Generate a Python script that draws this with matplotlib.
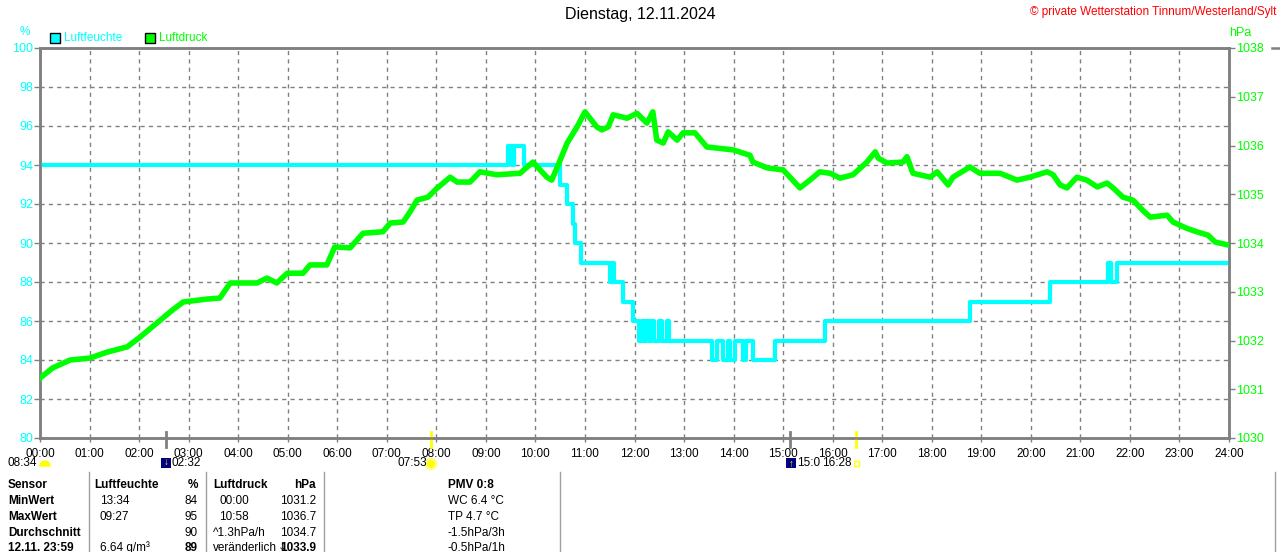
import matplotlib
matplotlib.use("Agg")
import matplotlib.pyplot as plt
import matplotlib.transforms as mtransforms
from matplotlib.patches import Rectangle, Circle, Wedge

plt.rcParams['font.family'] = ['Liberation Sans', 'DejaVu Sans']

# Luftfeuchte (%) - Stufenverlauf: Zeit in Stunden, Wert ab dieser Zeit
hum_t = [0.00, 9.45, 9.52, 9.57, 9.77, 10.50, 10.64, 10.76, 10.80, 10.93,
         11.51, 11.55, 11.58, 11.76, 11.97, 12.10, 12.16, 12.20, 12.24, 12.30,
         12.33, 12.40, 12.50, 12.55, 12.65, 12.70, 13.56, 13.66, 13.78, 13.88,
         13.92, 14.02, 14.18, 14.26, 14.39, 14.84, 15.85, 18.77, 20.39, 21.56,
         21.62, 21.74, 24.00]
hum_v = [94, 95, 94, 95, 94, 93, 92, 91, 90, 89,
         88, 89, 88, 87, 86, 85, 86, 85, 86, 85,
         86, 85, 86, 85, 86, 85, 84, 85, 84, 85,
         84, 85, 84, 85, 84, 85, 86, 87, 88, 89,
         88, 89, 89]

# Luftdruck (hPa)
p_t = [0.00, 0.26, 0.61, 1.01, 1.35, 1.76, 2.02, 2.36, 2.68, 2.89,
       3.37, 3.63, 3.84, 4.38, 4.58, 4.78, 4.99, 5.31, 5.45, 5.79,
       5.95, 6.26, 6.52, 6.92, 7.07, 7.33, 7.47, 7.61, 7.83, 8.01,
       8.28, 8.42, 8.68, 8.88, 9.22, 9.69, 9.95, 10.23, 10.33, 10.50,
       10.64, 10.84, 11.00, 11.24, 11.34, 11.47, 11.57, 11.85, 12.05, 12.25,
       12.37, 12.45, 12.58, 12.68, 12.86, 12.98, 13.22, 13.46, 13.99, 14.33,
       14.39, 14.68, 15.00, 15.34, 15.54, 15.74, 15.95, 16.15, 16.41, 16.69,
       16.86, 16.92, 17.10, 17.42, 17.50, 17.62, 17.97, 18.11, 18.33, 18.43,
       18.77, 18.97, 19.38, 19.72, 19.98, 20.33, 20.45, 20.59, 20.73, 20.93,
       21.13, 21.34, 21.54, 21.66, 21.86, 22.06, 22.26, 22.41, 22.75, 22.87,
       23.15, 23.35, 23.58, 23.72, 23.98]
p_v = [1031.23, 1031.44, 1031.60, 1031.64, 1031.76, 1031.87, 1032.07, 1032.36, 1032.63, 1032.79,
       1032.85, 1032.87, 1033.18, 1033.18, 1033.28, 1033.18, 1033.38, 1033.38, 1033.55, 1033.55,
       1033.92, 1033.90, 1034.20, 1034.23, 1034.41, 1034.43, 1034.64, 1034.88, 1034.94, 1035.12,
       1035.35, 1035.25, 1035.25, 1035.46, 1035.40, 1035.43, 1035.66, 1035.35, 1035.29, 1035.70,
       1036.05, 1036.38, 1036.69, 1036.38, 1036.32, 1036.38, 1036.63, 1036.56, 1036.66, 1036.46,
       1036.69, 1036.11, 1036.05, 1036.28, 1036.11, 1036.26, 1036.26, 1035.97, 1035.91, 1035.80,
       1035.66, 1035.54, 1035.50, 1035.13, 1035.29, 1035.46, 1035.43, 1035.33, 1035.40, 1035.66,
       1035.87, 1035.74, 1035.64, 1035.66, 1035.77, 1035.43, 1035.35, 1035.46, 1035.19, 1035.35,
       1035.56, 1035.43, 1035.43, 1035.29, 1035.35, 1035.46, 1035.40, 1035.19, 1035.13, 1035.35,
       1035.29, 1035.15, 1035.23, 1035.13, 1034.94, 1034.88, 1034.67, 1034.53, 1034.57, 1034.43,
       1034.30, 1034.23, 1034.16, 1034.02, 1033.96]

hour_labels = ["%02d:00" % h for h in range(25)]
hum_ticks = list(range(80, 101, 2))
p_ticks = list(range(1030, 1039))

# Astro-Markierungen (Zeit in Stunden, Farbe)
marks_t = [2 + 32 / 60, 7 + 53 / 60, 15 + 8 / 60, 16 + 28 / 60]
marks_c = ["#808080", "#ffff00", "#808080", "#ffff00"]

CYAN = "#00ffff"
GREEN = "#00ff00"
GRAY = "#808080"

fig = plt.figure(figsize=(12.8, 5.52), dpi=100)
ax = fig.add_axes([40 / 1280, 114 / 552, 1189 / 1280, 390 / 552])
ax2 = ax.twinx()

ax.plot(hum_t, hum_v, color=CYAN, lw=3, drawstyle="steps-post", zorder=3)
ax2.plot(p_t, p_v, color=GREEN, lw=4, zorder=4)

ax.set_xlim(0, 24)
ax.set_ylim(80, 100)
ax2.set_ylim(1030, 1038)

ax.set_xticks(range(25))
ax.set_xticklabels(hour_labels)
ax.set_yticks(hum_ticks)
ax2.set_yticks(p_ticks)

ax.grid(True, color=GRAY, linestyle=(0, (3, 3)), lw=1)
for s in list(ax.spines.values()) + list(ax2.spines.values()):
    s.set_color(GRAY)
    s.set_linewidth(1.8)

ax.tick_params(axis="y", colors=GRAY, labelcolor=CYAN, labelsize=9, length=4, width=1, pad=1)
ax.tick_params(axis="x", colors=GRAY, labelcolor="black", labelsize=8.5, length=3, width=1, pad=4)
ax2.tick_params(axis="y", colors=GRAY, labelcolor=GREEN, labelsize=9, length=4, width=1, pad=1)

trans = mtransforms.blended_transform_factory(ax.transData, ax.transAxes)
for t, c in zip(marks_t, marks_c):
    ax.plot([t, t], [-0.022, 0.015], color=c, lw=2, transform=trans, clip_on=False, zorder=6)

# Overlay in Pixelkoordinaten fuer Texte und Tabelle
ov = fig.add_axes([0, 0, 1, 1], facecolor="none")
ov.set_xlim(0, 1280)
ov.set_ylim(552, 0)
ov.axis("off")

ov.text(640, 15, "Dienstag, 12.11.2024", ha="center", va="center", fontsize=11.5)
ov.text(1276, 12, "© private Wetterstation Tinnum/Westerland/Sylt", ha="right", va="center",
        fontsize=8.5, color="red")
ov.text(25, 32, "%", ha="center", va="center", fontsize=8.5, color=CYAN)
ov.text(1240, 33, "hPa", ha="center", va="center", fontsize=9, color=GREEN)

ov.add_patch(Rectangle((50, 33), 10, 10, facecolor=CYAN, edgecolor="black", lw=1))
ov.text(64, 38, "Luftfeuchte", ha="left", va="center", fontsize=8.5, color=CYAN)
ov.add_patch(Rectangle((145, 33), 10, 10, facecolor=GREEN, edgecolor="black", lw=1))
ov.text(159, 38, "Luftdruck", ha="left", va="center", fontsize=8.5, color=GREEN)

# Astro-Zeiten unter der Zeitachse
ov.text(8, 463, "08:34", ha="left", va="center", fontsize=8.5)
ov.add_patch(Wedge((45, 466), 5, 180, 360, color="#ffff00"))
ov.add_patch(Rectangle((161, 458), 10, 10, facecolor="#000080"))
ov.text(166, 462, "↓", ha="center", va="center", fontsize=7, color="#ffff00", fontweight="bold")
ov.text(172, 463, "02:32", ha="left", va="center", fontsize=8.5)
ov.text(397, 463, "07:53", ha="left", va="center", fontsize=8.5)
ov.add_patch(Circle((431, 464), 3.5, color="#ffff00"))
ov.add_patch(Circle((431, 464), 5.5, facecolor="none", edgecolor="#ffff66", lw=1))
ov.add_patch(Rectangle((786, 458), 10, 10, facecolor="#000080"))
ov.text(791, 464, "↑", ha="center", va="center", fontsize=7, color="#ffff00", fontweight="bold")
ov.text(797, 463, "15:0", ha="left", va="center", fontsize=8.5)
ov.text(822, 463, "16:28", ha="left", va="center", fontsize=8.5)
ov.add_patch(Rectangle((854, 461), 5, 5, facecolor="none", edgecolor="#ffff00", lw=1))

# Tabelle
for x in [89, 206, 324, 560, 1275]:
    ov.plot([x, x], [472, 552], color="#a0a0a0", lw=1)
ov.plot([1272, 1280], [48, 48], color=GRAY, lw=1.8)

rows_y = [485, 501, 517, 532.5, 548]
col1 = ["Sensor", "MinWert", "MaxWert", "Durchschnitt", "12.11. 23:59"]
col2_l = ["Luftfeuchte", "13:34", "09:27", "", "6.64 g/m³"]
col2_r = ["%", "84", "95", "90", "89"]
col3_l = ["Luftdruck", "00:00", "10:58", "^1.3hPa/h", "veränderlich"]
col3_r = ["hPa", "1031.2", "1036.7", "1034.7", "1033.9"]
col4 = ["PMV 0:8", "WC 6.4 °C", "TP 4.7 °C", "-1.5hPa/3h", "-0.5hPa/1h"]

fs = 8.5
for i, y in enumerate(rows_y):
    head = i == 0
    ov.text(8, y, col1[i], ha="left", va="center", fontsize=fs, fontweight="bold")
    ov.text(94 if head else 100, y, col2_l[i], ha="left", va="center", fontsize=fs,
            fontweight="bold" if head else "normal")
    ov.text(198, y, col2_r[i], ha="right", va="center", fontsize=fs,
            fontweight="bold" if head or i == 4 else "normal")
    ov.text(213 if head or i >= 3 else 219, y, col3_l[i], ha="left", va="center", fontsize=fs,
            fontweight="bold" if head else "normal")
    ov.text(316, y, col3_r[i], ha="right", va="center", fontsize=fs,
            fontweight="bold" if head or i == 4 else "normal", zorder=7)
    ov.text(448, y, col4[i], ha="left", va="center", fontsize=fs,
            fontweight="bold" if head else "normal")

ov.add_patch(Rectangle((280, 541), 7, 11, facecolor="white", edgecolor="none", zorder=5))
ov.text(283, 547, "↓", ha="center", va="center", fontsize=8, color="#303030",
        fontweight="bold", zorder=6, family="DejaVu Sans")

fig.savefig("out.png", dpi=100)
